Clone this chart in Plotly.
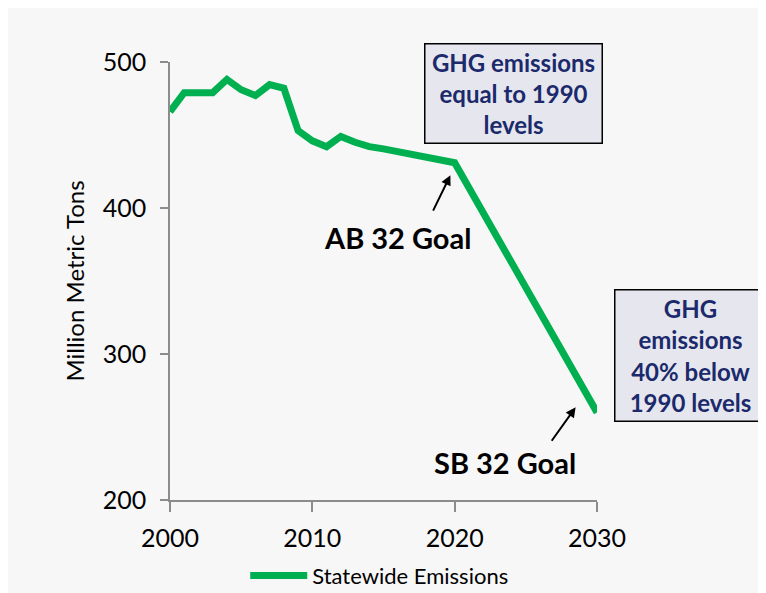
import plotly.graph_objects as go

years = [2000, 2001, 2003, 2004, 2005, 2006, 2007, 2008, 2009, 2010,
         2011, 2012, 2013, 2014, 2015, 2020, 2030]
emissions = [466, 479, 479, 488, 481, 477, 484.5, 482, 453, 446,
             442, 449, 445, 442, 440.5, 431, 260]

y_ticks = [200, 300, 400, 500]
x_ticks = [2000, 2010, 2020, 2030]

GREEN = '#00b050'
NAVY = '#1b2a6b'
BG = '#f7f7f7'
AXIS = '#8c8c8c'
FONT = 'Lato'

fig = go.Figure(go.Scatter(
    x=years, y=emissions, mode='lines', name='Statewide Emissions',
    line=dict(color=GREEN, width=7), cliponaxis=False))

# page body adds 8px, so the figure is 758x585 and margins are offset
fig.update_layout(
    width=758, height=585,
    margin=dict(l=162, r=169, t=54, b=93, autoexpand=False),
    paper_bgcolor=BG, plot_bgcolor=BG,
    font=dict(family=FONT, color='black'),
    showlegend=True,
    legend=dict(orientation='h', x=0.49, xanchor='center', y=-0.125, yanchor='top',
                font=dict(size=22, family=FONT), itemwidth=57, bgcolor='rgba(0,0,0,0)'),
)

fig.update_xaxes(range=[2000, 2030], tickvals=x_ticks, showgrid=False, zeroline=False,
                 showline=True, linecolor=AXIS, linewidth=1.5,
                 ticks='outside', ticklen=10, tickcolor=AXIS, tickwidth=1.5,
                 tickfont=dict(size=25), ticklabelstandoff=5)
fig.update_yaxes(range=[200, 500], tickvals=y_ticks, showgrid=False, zeroline=False,
                 showline=True, linecolor=AXIS, linewidth=1.5,
                 ticks='outside', ticklen=8, tickcolor=AXIS, tickwidth=1.5,
                 tickfont=dict(size=25), ticklabelstandoff=9,
                 title=dict(text='Million Metric Tons', font=dict(size=24), standoff=11))

box = dict(xref='paper', yref='paper', showarrow=False, bgcolor='#e6e6ef',
           bordercolor='black', borderwidth=1.5, xanchor='center', yanchor='middle',
           font=dict(size=24, color=NAVY, family=FONT, weight='bold'))
fig.add_annotation(box, text='GHG emissions<br>equal to 1990<br>levels',
                   x=0.804, y=0.927, width=174, height=96)
fig.add_annotation(box, text='GHG<br>emissions<br>40% below<br>1990 levels',
                   x=1.218, y=0.331, width=148, height=128)

label = dict(xref='paper', yref='paper', showarrow=False, xanchor='center', yanchor='middle',
             font=dict(size=29, color='black', family=FONT, weight='bold'))
fig.add_annotation(label, text='AB 32 Goal', x=0.532, y=0.600)
fig.add_annotation(label, text='SB 32 Goal', x=0.785, y=0.0845)

arrow = dict(text='', showarrow=True, arrowhead=2, arrowsize=1, arrowwidth=2,
             arrowcolor='black', xref='x', yref='y', axref='pixel', ayref='pixel')
fig.add_annotation(arrow, x=2019.7, y=422.5, ax=-18, ay=37)
fig.add_annotation(arrow, x=2028.5, y=263.5, ax=-25, ay=35)

fig.write_html("out.html")
